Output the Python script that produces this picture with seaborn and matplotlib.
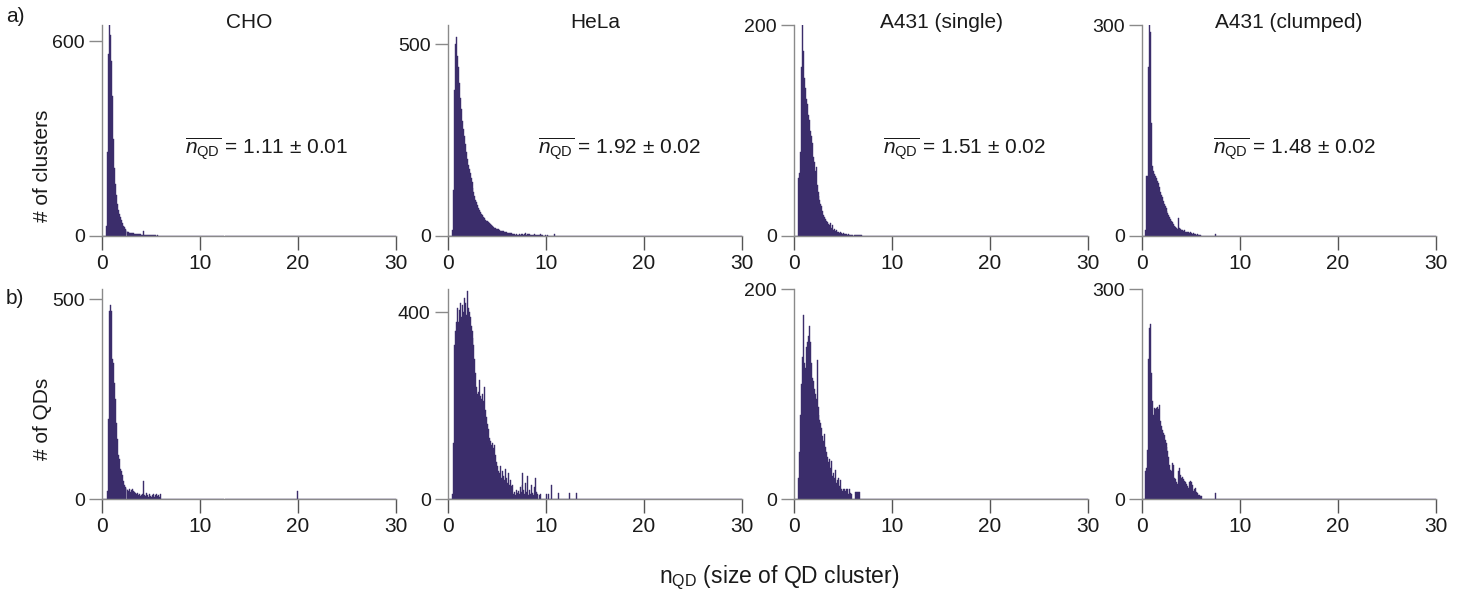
import numpy as np
import pandas as pd
import matplotlib
matplotlib.use("Agg")
import matplotlib.pyplot as plt
import seaborn as sns

# ---------------- data ----------------
BIN = 0.1
cells = ["CHO", "HeLa", "A431 (single)", "A431 (clumped)"]
mean_text = ["1.11 ± 0.01", "1.92 ± 0.02", "1.51 ± 0.02", "1.48 ± 0.02"]
ymax_clusters = [650, 550, 200, 300]
ytick_clusters = [600, 500, 200, 300]
ymax_qds = [525, 450, 200, 300]
ytick_qds = [500, 400, 200, 300]
xticks = [0, 10, 20, 30]

# row a) : # of clusters, bins of 0.1 starting at the given left edge
cho_clusters_start = 0.4
cho_clusters = [30, 260, 560, 650, 620, 540, 430, 300, 210, 160,
                125, 100, 80, 68, 58, 50, 40, 32, 27, 22,
                18, 14, 12, 11, 10, 9, 9, 8, 8, 7,
                7, 6, 6, 5, 5, 5, 4, 4, 14, 4,
                3, 3, 3, 2, 3, 2, 2, 2, 2, 2,
                2, 1, 2, 1, 1, 1, 1]

hela_clusters_start = 0.4
hela_clusters = [15, 120, 380, 500, 520, 470, 440, 400, 360, 330,
                 300, 280, 260, 240, 220, 200, 185, 175, 165, 150,
                 140, 125, 115, 105, 95, 88, 80, 74, 68, 62,
                 58, 54, 50, 46, 42, 40, 38, 36, 33, 30,
                 28, 26, 24, 22, 20, 19, 18, 17, 15, 14,
                 13, 12, 12, 11, 10, 10, 9, 8, 8, 7,
                 7, 5, 4, 4, 3, 4, 3, 3, 4, 3,
                 5, 4, 6, 3, 4, 8, 3, 5, 4, 6,
                 3, 3, 2, 3, 4, 2, 3, 2, 3, 2,
                 4, 2, 2, 1, 1, 2, 1, 2, 1, 1,
                 1, 1, 1, 1, 5, 1, 1]

a431s_clusters_start = 0.4
a431s_clusters = [55, 60, 80, 160, 200, 175, 150, 140, 130, 125,
                  115, 110, 100, 95, 88, 75, 70, 62, 65, 48,
                  42, 38, 34, 30, 28, 24, 20, 18, 16, 14,
                  13, 11, 10, 12, 8, 10, 6, 7, 5, 6,
                  4, 4, 3, 4, 3, 2, 3, 2, 2, 2,
                  1, 2, 1, 1, 1, 1, 0, 1, 1, 1,
                  1, 1, 1, 1, 1]

a431c_clusters_start = 0.3
a431c_clusters = [8, 85, 85, 240, 300, 290, 160, 100, 92, 88,
                  85, 82, 78, 75, 70, 62, 58, 55, 50, 45,
                  42, 40, 36, 33, 30, 27, 24, 22, 20, 17,
                  14, 13, 11, 10, 25, 12, 10, 8, 9, 7,
                  8, 6, 6, 5, 6, 4, 5, 4, 3, 4,
                  3, 3, 2, 3, 2, 2, 2]
a431c_clusters_tail_x = [7.45]
a431c_clusters_tail_n = [3]

# row b) : # of QDs
cho_qds_start = 0.5
cho_qds = [20, 200, 470, 485, 470, 350, 340, 290, 250, 190,
           150, 110, 100, 75, 70, 60, 45, 35, 30, 28,
           25, 22, 20, 25, 18, 22, 25, 20, 18, 15,
           12, 14, 10, 12, 8, 10, 12, 45, 10, 8,
           15, 10, 6, 12, 8, 5, 10, 12, 6, 10,
           12, 8, 10, 5, 12]
cho_qds_tail_x = [19.95]
cho_qds_tail_n = [20]

hela_qds_start = 0.4
hela_qds = [10, 120, 330, 360, 380, 410, 380, 405, 420, 390,
            415, 400, 430, 420, 395, 445, 410, 400, 390, 370,
            360, 345, 330, 300, 270, 240, 225, 230, 255, 220,
            215, 225, 210, 240, 190, 175, 160, 150, 130, 125,
            115, 120, 110, 115, 95, 80, 70, 60, 55, 70,
            45, 60, 50, 40, 65, 45, 35, 55, 30, 40,
            28, 30, 10, 15, 8, 20, 12, 18, 10, 25,
            15, 30, 55, 20, 10, 35, 15, 50, 8, 20,
            10, 30, 12, 8, 25, 45, 15, 10, 0, 8,
            10]
hela_qds_tail_x = [10.05, 10.25, 10.55, 11.25, 12.35, 13.15]
hela_qds_tail_n = [10, 10, 30, 12, 12, 12]

a431s_qds_start = 0.4
a431s_qds = [20, 45, 80, 110, 135, 175, 130, 125, 145, 150,
             155, 165, 150, 130, 115, 112, 105, 100, 95, 132,
             88, 80, 75, 72, 68, 60, 55, 62, 50, 45,
             40, 35, 38, 30, 36, 22, 25, 20, 28, 15,
             18, 20, 12, 18, 10, 8, 10, 10, 8, 10,
             10, 5, 10, 6, 5, 0, 0, 0, 7, 7,
             7, 7, 7]

a431c_qds_start = 0.3
a431c_qds = [40, 45, 70, 200, 245, 250, 180, 140, 120, 130,
             128, 130, 132, 128, 135, 112, 104, 98, 95, 92,
             85, 80, 75, 68, 60, 48, 42, 40, 52, 48,
             30, 28, 25, 22, 40, 44, 35, 30, 32, 28,
             26, 25, 22, 18, 16, 25, 26, 24, 20, 12,
             14, 16, 10, 8, 6, 6, 5, 4]
a431c_qds_tail_x = [7.45]
a431c_qds_tail_n = [8]

# ---------------- assemble ----------------
def series(start, counts, tail_x=(), tail_n=()):
    centers = [start + BIN * (i + 0.5) for i in range(len(counts))]
    return pd.DataFrame({"n_qd": centers + list(tail_x),
                         "count": list(counts) + list(tail_n)})

row_clusters = [
    series(cho_clusters_start, cho_clusters),
    series(hela_clusters_start, hela_clusters),
    series(a431s_clusters_start, a431s_clusters),
    series(a431c_clusters_start, a431c_clusters, a431c_clusters_tail_x, a431c_clusters_tail_n),
]
row_qds = [
    series(cho_qds_start, cho_qds, cho_qds_tail_x, cho_qds_tail_n),
    series(hela_qds_start, hela_qds, hela_qds_tail_x, hela_qds_tail_n),
    series(a431s_qds_start, a431s_qds),
    series(a431c_qds_start, a431c_qds, a431c_qds_tail_x, a431c_qds_tail_n),
]

# ---------------- style ----------------
sns.set_style("ticks")
plt.rcParams["font.family"] = ["Liberation Sans", "DejaVu Sans"]
plt.rcParams["mathtext.fontset"] = "custom"
plt.rcParams["mathtext.rm"] = "Liberation Sans"
plt.rcParams["mathtext.it"] = "Liberation Sans:italic"
plt.rcParams["mathtext.bf"] = "Liberation Sans:bold"

BAR = "#3b2d6b"
SPINE = "#8a8a8a"
TICK = "#555555"
TXT = "#1a1a1a"

W, H = 1461, 602
fig = plt.figure(figsize=(W / 100, H / 100), dpi=100)

lefts_px = [102, 448, 794, 1142]
width_px = 294
rows_px = [(25, 236), (289, 499)]  # (top, bottom) in pixels
ann_x = [8.5, 9.2, 9.1, 7.2]

for r, (rowdata, ymaxs, ytks) in enumerate([(row_clusters, ymax_clusters, ytick_clusters),
                                            (row_qds, ymax_qds, ytick_qds)]):
    top_px, bot_px = rows_px[r]
    for c in range(4):
        ax = fig.add_axes([lefts_px[c] / W, 1 - bot_px / H, width_px / W, (bot_px - top_px) / H])
        sns.histplot(data=rowdata[c], x="n_qd", weights="count", binwidth=BIN,
                     binrange=(0, 30), ax=ax, color=BAR, alpha=1,
                     edgecolor=BAR, linewidth=0.3)
        ax.set_xlim(0, 30)
        ax.set_ylim(0, ymaxs[c])
        ax.set_xticks(xticks)
        ax.set_yticks([0, ytks[c]])
        ax.set_xlabel("")
        ax.set_ylabel("")
        sns.despine(ax=ax)
        for s in ("left", "bottom"):
            ax.spines[s].set_color(SPINE)
            ax.spines[s].set_linewidth(1.0)
        ax.tick_params(axis="x", direction="out", length=10, width=1, color=TICK,
                       labelsize=15, labelcolor=TXT, pad=3)
        ax.tick_params(axis="y", direction="out", length=9.5, width=1, color=SPINE,
                       labelsize=14, labelcolor=TXT, pad=3)
        if r == 0:
            ax.text(0.5, 1.014, cells[c], transform=ax.transAxes, ha="center",
                    va="center", fontsize=15, color=TXT)
            ax.text(ann_x[c], 0.393, r"$\overline{n_{\mathrm{QD}}}$ = " + mean_text[c],
                    transform=ax.get_xaxis_transform(), ha="left", va="baseline",
                    fontsize=15, color=TXT)

fig.text(42 / W, 1 - 166 / H, "# of clusters", rotation=90, ha="center", va="center",
         fontsize=15, color=TXT)
fig.text(43 / W, 1 - 419 / H, "# of QDs", rotation=90, ha="center", va="center",
         fontsize=15, color=TXT)
fig.text(6 / W, 1 - 16 / H, "a)", ha="left", va="center", fontsize=15, color=TXT)
fig.text(6 / W, 1 - 298 / H, "b)", ha="left", va="center", fontsize=15, color=TXT)
fig.text(779 / W, 1 - 578 / H, r"n$_{\mathrm{QD}}$ (size of QD cluster)", ha="center",
         va="center", fontsize=16.5, color=TXT)

fig.savefig("out.png", dpi=100)
